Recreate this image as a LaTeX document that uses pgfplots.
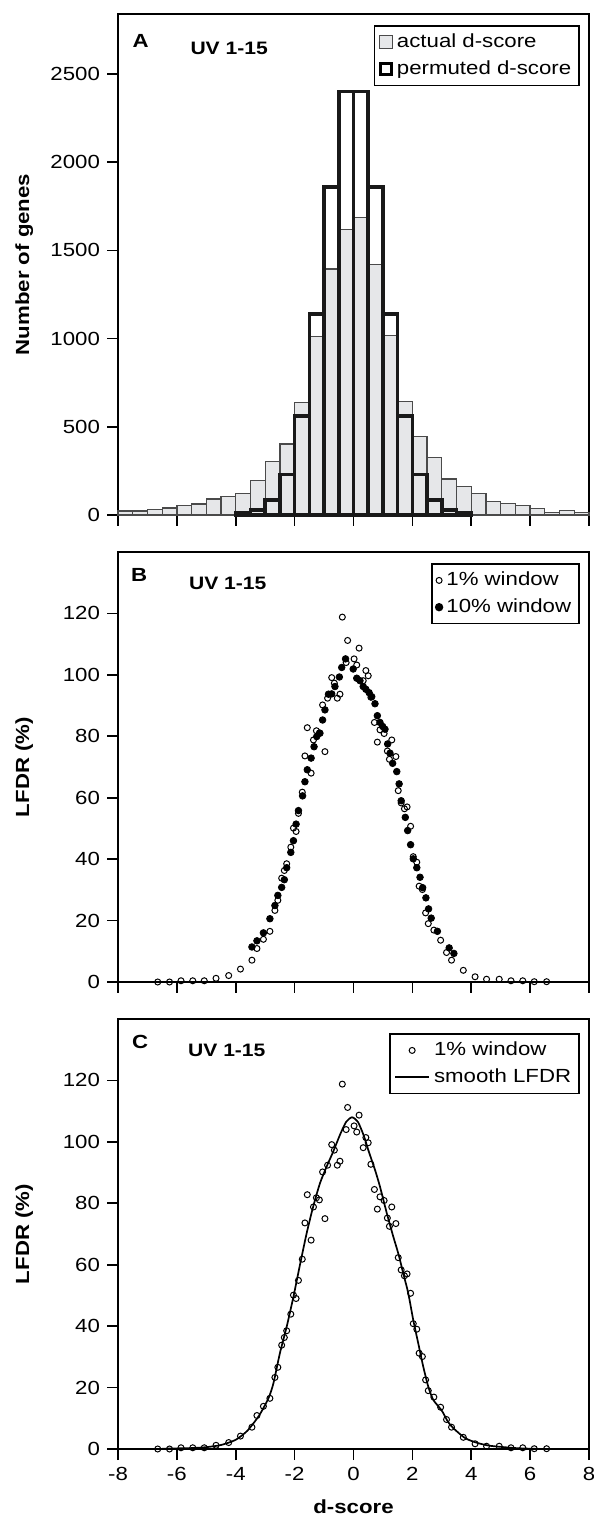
\documentclass[border=0pt]{standalone}
\usepackage{fontspec}
\setmainfont{Liberation Sans}[FakeStretch=1.17]
\usepackage{pgfplots}
\pgfplotsset{compat=1.18}
\definecolor{histgray}{HTML}{E6E7E9}
\definecolor{edgegray}{HTML}{4A4A4A}

\pgfplotstableread{
x y
-8 23
-7.5 22
-7 30
-6.5 40
-6 55
-5.5 62
-5 90
-4.5 105
-4 122
-3.5 195
-3 305
-2.5 402
-2 638
-1.5 1010
-1 1395
-0.5 1619
0 1687
0.5 1419
1 1019
1.5 643
2 445
2.5 325
3 204
3.5 160
4 122
4.5 75
5 64
5.5 53
6 38
6.5 15
7 25
7.5 15
8 0
}\actualtab

\pgfplotstableread{
x y
-4 11
-3.5 27
-3 85
-2.5 229
-2 560
-1.5 1138
-1 1860
-0.5 2400
0 2400
0.5 1860
1 1138
1.5 560
2 229
2.5 85
3 27
3.5 11
4 0
}\permtab

\pgfplotstableread{
x y
-6.65 0
-6.25 0
-5.86 0.4
-5.46 0.4
-5.07 0.4
-4.67 1.2
-4.24 2.1
-3.84 4.2
-3.45 7.1
-3.28 10.9
-3.06 13.9
-2.84 16.5
-2.67 23.3
-2.57 26.6
-2.44 33.8
-2.35 36.3
-2.27 38.5
-2.13 43.9
-2.04 50.1
-1.95 49
-1.87 54.9
-1.74 61.8
-1.65 73.6
-1.57 82.8
-1.44 68
-1.36 78.8
-1.26 81.8
-1.16 81.1
-1.05 90.2
-0.97 75
-0.88 92.4
-0.74 99.1
-0.65 97.3
-0.55 92.4
-0.46 93.7
-0.38 118.8
-0.25 104
-0.20 111.2
0.02 105.2
0.11 103.2
0.19 108.7
0.33 98.1
0.42 101.4
0.50 99.7
0.59 92.7
0.71 84.5
0.81 78.1
0.90 82.1
1.04 80.9
1.15 75.2
1.22 72.5
1.30 78.8
1.44 73.4
1.52 62.3
1.62 58.3
1.73 56.4
1.82 57
1.94 50.7
2.03 40.8
2.15 39
2.23 31.2
2.34 30.1
2.45 22.5
2.54 19
2.73 16.9
2.96 13.6
3.16 9.6
3.33 7.1
3.73 3.8
4.13 1.7
4.52 0.9
4.95 0.9
5.35 0.4
5.75 0.4
6.14 0.1
6.56 0.1
}\onepct

\pgfplotstableread{
x y
-3.45 11.4
-3.28 13.4
-3.06 16
-2.84 20.6
-2.67 24.9
-2.57 28.2
-2.44 30.8
-2.35 33.3
-2.27 37.2
-2.13 42.2
-2.04 46
-1.95 51.4
-1.87 55.8
-1.73 60.6
-1.65 65.2
-1.57 69.1
-1.44 72.9
-1.34 76.6
-1.25 79.9
-1.14 81
-1.05 85.3
-0.97 88.6
-0.85 93.7
-0.74 93.8
-0.63 96.2
-0.48 99.3
-0.40 102.4
-0.27 105.2
-0.01 101.9
0.11 98.9
0.22 98.1
0.33 96.2
0.42 95.3
0.53 94.2
0.62 92.9
0.73 90.6
0.81 86.7
0.90 84.5
0.99 83.2
1.07 82.3
1.16 77.5
1.24 74.5
1.33 71.2
1.47 68.5
1.55 64.5
1.62 59
1.76 53.6
1.84 49.3
1.94 44.7
2.03 40.1
2.15 37.2
2.26 34.1
2.35 30.7
2.46 27.4
2.55 23.8
2.64 20.8
2.85 16.5
3.25 11.1
3.41 9.3
}\tenpct

\pgfplotstableread{
x y
-6.5 0.1
-6 0.2
-5.5 0.3
-5 0.6
-4.5 1.3
-4 3
-3.6 6
-3.2 11
-2.89 16.5
-2.72 21.4
-2.50 31.2
-2.27 39.8
-2.04 49.6
-1.82 59.9
-1.59 70.3
-1.37 78.9
-1.14 86.5
-0.91 92
-0.69 96.8
-0.45 102.5
-0.25 106.5
-0.05 108
0.15 106.5
0.35 102
0.50 97.4
0.73 90.9
0.90 85.4
1.13 76.8
1.35 69.2
1.52 63.7
1.69 57.2
1.86 50.7
2.03 42
2.20 34.4
2.37 26.8
2.54 20.3
2.71 16
3.0 12.5
3.2 9
3.4 6.7
3.8 3.5
4.2 2
4.6 1.1
5 0.7
5.5 0.3
6 0.1
6.5 0
}\smoothtab

\tikzset{
  panelletter/.style={font=\fontsize{9.5}{10}\selectfont\bfseries},
  uvlabel/.style={font=\fontsize{9}{10}\selectfont\bfseries},
}
\pgfplotsset{
  myaxis/.style={
    scale only axis, width=235.5pt,
    xmin=-8, xmax=8, ymin=0,
    axis line style={line width=0.85pt},
    tick align=outside, tick pos=left,
    major tick length=5.5pt,
    every tick/.style={line width=0.85pt, black},
    xtick={-8,-6,...,8},
    tick label style={font=\fontsize{9.5}{10}\selectfont},
    /pgf/number format/assume math mode=true,
    /pgf/number format/1000 sep={},
    ylabel style={font=\fontsize{9.5}{10}\selectfont\bfseries, at={(axis description cs:-0.199,0.5)}, anchor=center},
    legend style={font=\fontsize{9.5}{11}\selectfont, draw=black, line width=0.85pt, anchor=north east, inner sep=2pt, row sep=1pt},
    legend cell align=left,
    clip=false,
  },
  opencirc/.style={only marks, mark=o, mark size=1.5pt, mark options={line width=0.5pt, fill=white, draw=black}},
  fillcirc/.style={only marks, mark=*, mark size=1.65pt, mark options={draw=black, fill=black}},
}

\begin{document}
\begin{tikzpicture}
\path[use as bounding box] (0,0) rectangle (297pt,758pt);

% Panel A
\begin{axis}[myaxis, at={(59pt,500.5pt)}, anchor=south west,
  height=250.5pt, ymax=2840,
  ytick={0,500,...,2500}, xticklabels={},
  ylabel={Number of genes},
  legend style={at={(axis description cs:0.981,0.978)}}]
\addlegendimage{legend image code/.code={\draw[fill=histgray,draw=edgegray,line width=0.65pt] (0pt,-3.2pt) rectangle (6.4pt,3.2pt);}}
\addlegendentry{actual d-score}
\addlegendimage{legend image code/.code={\draw[fill=white,draw=black,line width=1.6pt] (0.4pt,-2.8pt) rectangle (6pt,2.8pt);}}
\addlegendentry{permuted d-score}
\addplot[ybar interval, fill=histgray, draw=edgegray, line width=0.65pt, forget plot] table {\actualtab};
\addplot[ybar interval, fill=none, draw=black!90, line width=1.75pt, forget plot] table {\permtab};
\node[panelletter] at (axis description cs:0.048,0.947) {A};
\node[uvlabel] at (axis description cs:0.236,0.932) {UV 1-15};
\end{axis}

% Panel B
\begin{axis}[myaxis, at={(59pt,267pt)}, anchor=south west,
  height=215pt, ymax=140,
  ytick={0,20,...,120}, xticklabels={},
  ylabel={LFDR (\%)},
  legend style={at={(axis description cs:0.981,0.974)}}]
\addplot[opencirc] table {\onepct};
\addlegendentry{1\% window}
\addplot[fillcirc] table {\tenpct};
\addlegendentry{10\% window}
\node[panelletter] at (axis description cs:0.045,0.947) {B};
\node[uvlabel] at (axis description cs:0.233,0.928) {UV 1-15};
\end{axis}

% Panel C
\begin{axis}[myaxis, at={(59pt,33.5pt)}, anchor=south west,
  height=215pt, ymax=140,
  ytick={0,20,...,120},
  ylabel={LFDR (\%)},
  xlabel={d-score},
  xlabel style={font=\fontsize{9.5}{10}\selectfont\bfseries, at={(axis description cs:0.5,0)}, anchor=center, yshift=-29pt},
  legend style={at={(axis description cs:0.981,0.967)}}]
\addplot[black, line width=0.85pt, smooth, tension=0.4, forget plot] table {\smoothtab};
\addplot[opencirc, forget plot] table {\onepct};
\addlegendimage{opencirc}
\addlegendentry{1\% window}
\addlegendimage{black, line width=0.85pt}
\addlegendentry{smooth LFDR}
\node[panelletter] at (axis description cs:0.047,0.947) {C};
\node[uvlabel] at (axis description cs:0.231,0.928) {UV 1-15};
\end{axis}
\end{tikzpicture}
\end{document}
